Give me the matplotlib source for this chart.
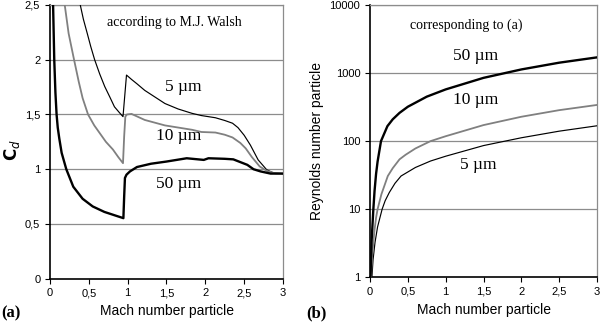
import matplotlib
matplotlib.use("Agg")
import matplotlib.pyplot as plt
from matplotlib.ticker import FixedLocator, FuncFormatter

# ---------------- data: panel (a) drag coefficient ----------------
mach5_sub = [0.33, 0.39, 0.43, 0.48, 0.525, 0.575, 0.64, 0.705, 0.77, 0.83, 0.89, 0.94]
cd5_sub = [2.95, 2.5, 2.37, 2.24, 2.12, 2.0, 1.87, 1.755, 1.66, 1.57, 1.52, 1.48]
mach5_sup = [0.985, 1.05, 1.12, 1.22, 1.35, 1.48, 1.65, 1.83, 1.95, 2.13, 2.25, 2.35, 2.42, 2.50, 2.58, 2.68, 2.79, 2.88, 3.0]
cd5_sup = [1.86, 1.82, 1.78, 1.72, 1.66, 1.60, 1.55, 1.51, 1.49, 1.47, 1.445, 1.42, 1.38, 1.31, 1.22, 1.085, 0.995, 0.965, 0.96]

mach10_sub = [0.17, 0.19, 0.24, 0.31, 0.37, 0.42, 0.49, 0.57, 0.64, 0.72, 0.81, 0.88, 0.94]
cd10_sub = [2.9, 2.5, 2.24, 2.0, 1.8, 1.65, 1.5, 1.40, 1.33, 1.25, 1.18, 1.11, 1.055]
mach10_sup = [0.955, 0.97, 0.99, 1.05, 1.22, 1.48, 1.83, 1.95, 2.13, 2.25, 2.35, 2.45, 2.52, 2.60, 2.70, 2.79, 2.90, 3.0]
cd10_sup = [1.30, 1.48, 1.50, 1.505, 1.45, 1.40, 1.36, 1.34, 1.335, 1.315, 1.29, 1.24, 1.19, 1.11, 1.025, 0.985, 0.962, 0.96]

mach50_sub = [0.03, 0.04, 0.055, 0.07, 0.085, 0.10, 0.12, 0.15, 0.21, 0.30, 0.42, 0.55, 0.70, 0.85, 0.945]
cd50_sub = [3.0, 2.5, 2.0, 1.7, 1.5, 1.38, 1.28, 1.15, 1.0, 0.84, 0.73, 0.66, 0.61, 0.575, 0.553]
mach50_sup = [0.955, 0.965, 0.985, 1.03, 1.12, 1.3, 1.5, 1.76, 1.98, 2.04, 2.25, 2.36, 2.45, 2.54, 2.62, 2.71, 2.84, 3.0]
cd50_sup = [0.75, 0.92, 0.95, 0.98, 1.02, 1.05, 1.07, 1.10, 1.085, 1.10, 1.095, 1.09, 1.065, 1.04, 1.0, 0.98, 0.96, 0.96]

# ---------------- data: panel (b) Reynolds number ----------------
mach_re50 = [0.006, 0.02, 0.044, 0.06, 0.08, 0.10, 0.145, 0.23, 0.30, 0.39, 0.5, 0.75, 1.0, 1.5, 2.0, 2.5, 3.0]
re50 = [1.0, 3.25, 10, 18.6, 33, 50, 100, 166, 209, 260, 320, 450, 575, 850, 1130, 1420, 1700]
mach_re10 = [0.012, 0.025, 0.044, 0.06, 0.08, 0.10, 0.15, 0.235, 0.30, 0.39, 0.47, 0.6, 0.8, 1.0, 1.5, 2.0, 2.5, 3.0]
re10 = [1.0, 1.9, 3.25, 5.0, 7.5, 10, 16.5, 30.7, 40, 54, 63, 78, 100, 118, 172, 228, 285, 340]
mach_re5 = [0.025, 0.04, 0.066, 0.10, 0.16, 0.20, 0.255, 0.33, 0.41, 0.6, 0.8, 1.0, 1.5, 2.0, 2.5, 3.0]
re5 = [1.0, 1.8, 3.25, 5.5, 10, 13.3, 17.6, 24, 30.7, 41, 51, 60, 86, 112, 140, 168]

left_yticks = [0, 0.5, 1, 1.5, 2, 2.5]
xticks = [0, 0.5, 1, 1.5, 2, 2.5, 3]
right_yticks = [1, 10, 100, 1000, 10000]

SANS = "Liberation Sans"
SERIF = "Liberation Serif"
GRID = "#8c8c8c"

def comma(v, pos=None):
    return ("%g" % v).replace(".", ",")

fig = plt.figure(figsize=(6.0, 3.22), dpi=100)
axa = fig.add_axes([0.0833, 0.1345, 0.3884, 0.850])
axb = fig.add_axes([0.6167, 0.139, 0.3783, 0.8455])

for ax in (axa, axb):
    ax.set_xlim(0, 3)
    ax.xaxis.set_major_locator(FixedLocator(xticks))
    ax.xaxis.set_major_formatter(FuncFormatter(comma))
    ax.tick_params(direction="out", length=3.5, width=0.8, labelsize=8, colors="black")
    ax.spines["left"].set_color("black")
    ax.spines["bottom"].set_color("black")
    ax.spines["left"].set_linewidth(1.2)
    ax.spines["bottom"].set_linewidth(1.2)
    ax.spines["right"].set_color(GRID)
    ax.spines["top"].set_color(GRID)
    ax.spines["right"].set_linewidth(0.9)
    ax.spines["top"].set_linewidth(0.9)
    ax.set_xlabel("Mach number particle", fontfamily=SANS, fontsize=10, labelpad=4)

# panel (a)
axa.set_ylim(0, 2.5)
axa.yaxis.set_major_locator(FixedLocator(left_yticks))
axa.yaxis.set_major_formatter(FuncFormatter(comma))
for v in left_yticks[1:]:
    axa.axhline(v, color=GRID, lw=0.9, zorder=1)
axa.plot(mach5_sub + mach5_sup, cd5_sub + cd5_sup, color="black", lw=0.85, zorder=3)
axa.plot(mach10_sub + mach10_sup, cd10_sub + cd10_sup, color="#808080", lw=1.3, zorder=3)
axa.plot(mach50_sub + mach50_sup, cd50_sub + cd50_sup, color="black", lw=1.7, zorder=4)
axa.text(1.6, 2.34, "according to M.J. Walsh", fontfamily=SERIF, fontsize=10, ha="center", va="center")
axa.text(1.72, 1.755, "5 µm", fontfamily=SERIF, fontsize=12.5, ha="center", va="center")
axa.text(1.66, 1.305, "10 µm", fontfamily=SERIF, fontsize=12.5, ha="center", va="center")
axa.text(1.66, 0.864, "50 µm", fontfamily=SERIF, fontsize=12.5, ha="center", va="center")
fig.text(0.020, 0.534, r"$\mathbf{C}_{\mathit{d}}$", fontsize=12, rotation=90, ha="center", va="center")

# panel (b)
axb.set_yscale("log")
axb.set_ylim(1, 10000)
axb.yaxis.set_major_locator(FixedLocator(right_yticks))
axb.yaxis.set_major_formatter(FuncFormatter(lambda v, p: "%d" % round(v)))
axb.yaxis.set_minor_locator(FixedLocator([]))
for v in right_yticks[1:]:
    axb.axhline(v, color=GRID, lw=0.9, zorder=1)
axb.plot(mach_re5, re5, color="black", lw=0.85, zorder=3)
axb.plot(mach_re10, re10, color="#808080", lw=1.3, zorder=3)
axb.plot(mach_re50, re50, color="black", lw=1.7, zorder=4)
axb.text(1.27, 5080, "corresponding to (a)", fontfamily=SERIF, fontsize=10, ha="center", va="center")
axb.text(1.40, 1780, "50 µm", fontfamily=SERIF, fontsize=12.5, ha="center", va="center")
axb.text(1.40, 400, "10 µm", fontfamily=SERIF, fontsize=12.5, ha="center", va="center")
axb.text(1.43, 45, "5 µm", fontfamily=SERIF, fontsize=12.5, ha="center", va="center")
axb.set_ylabel("Reynolds number particle", fontfamily=SANS, fontsize=10, labelpad=4)

for ax in (axa, axb):
    for lab in ax.get_xticklabels() + ax.get_yticklabels():
        lab.set_fontfamily(SANS)

fig.text(0.002, 0.028, "(a)", fontfamily=SERIF, fontweight="bold", fontsize=12, ha="left", va="center")
fig.text(0.510, 0.028, "(b)", fontfamily=SERIF, fontweight="bold", fontsize=12, ha="left", va="center")

fig.savefig("out.png", dpi=100)
